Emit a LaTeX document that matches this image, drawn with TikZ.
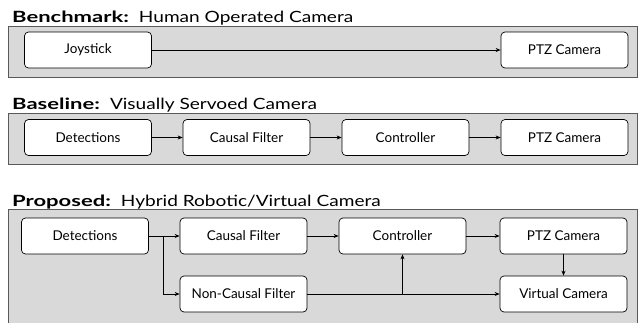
\documentclass[tikz,border=0pt]{standalone}
\usepackage{fontspec}
\setmainfont{Lato}
\usetikzlibrary{arrows.meta}
\definecolor{panelfill}{HTML}{D9D9D9}
\definecolor{panelline}{HTML}{595959}
\newcommand{\ttlbold}[1]{\scalebox{1.42}[1]{\textbf{#1}}}
\newcommand{\ttlreg}[1]{\scalebox{1.23}[1]{#1}}
\tikzset{
  panel/.style={draw=panelline, fill=panelfill, line width=0.9pt},
  blk/.style={draw=black, fill=white, rounded corners=4pt, minimum width=127pt, minimum height=36pt, inner sep=0pt, line width=0.7pt, font=\fontsize{13.5}{15}\selectfont},
  ttl/.style={anchor=base west, inner sep=0pt, font=\fontsize{15.5}{18}\selectfont},
  conn/.style={line width=0.8pt, -{Stealth[length=5pt,width=4pt]}},
  plain/.style={line width=0.8pt}
}
\begin{document}
\begin{tikzpicture}[x=1pt,y=-1pt]
\useasboundingbox (0,0) rectangle (639,322);
% Benchmark
\node[ttl] (t1) at (12,22) {\ttlbold{Benchmark:}\hspace{10pt}\ttlreg{Human Operated Camera}};
\path[panel] (8,26) rectangle (637,77);
\node[blk] (joy) at (88,50) {Joystick};
\node[blk] (ptz1) at (564.5,50) {PTZ Camera};
\draw[conn] (joy) -- (ptz1);
% Baseline
\node[ttl] (t2) at (12,109) {\ttlbold{Baseline:}\hspace{10pt}\ttlreg{Visually Servoed Camera}};
\path[panel] (8,113) rectangle (637,164);
\node[blk] (det2) at (88,137.5) {Detections};
\node[blk] (cf2) at (246.5,137.5) {Causal Filter};
\node[blk] (ctl2) at (405.5,137.5) {Controller};
\node[blk] (ptz2) at (564.5,137.5) {PTZ Camera};
\draw[conn] (det2) -- (cf2);
\draw[conn] (cf2) -- (ctl2);
\draw[conn] (ctl2) -- (ptz2);
% Proposed
\node[ttl] (t3) at (12,206) {\ttlbold{Proposed:}\hspace{10pt}\ttlreg{Hybrid Robotic/Virtual Camera}};
\path[panel] (8,209) rectangle (637,335);
\node[blk] (det3) at (85,236) {Detections};
\node[blk] (cf3) at (243.5,236) {Causal Filter};
\node[blk] (ncf3) at (243.5,294) {Non-Causal Filter};
\node[blk] (ctl3) at (402.5,236) {Controller};
\node[blk] (ptz3) at (563.5,236) {PTZ Camera};
\node[blk] (vc3) at (563.5,294) {Virtual Camera};
\coordinate (br1) at (163,236);
\draw[conn] (det3) -- (cf3);
\draw[conn] (br1) |- (ncf3.west);
\draw[conn] (ncf3) -- (vc3);
\draw[conn] (ctl3.south |- ncf3.east) -- (ctl3.south);
\draw[conn] (cf3) -- (ctl3);
\draw[conn] (ctl3) -- (ptz3);
\draw[conn] (ptz3) -- (vc3);
\end{tikzpicture}
\end{document}
